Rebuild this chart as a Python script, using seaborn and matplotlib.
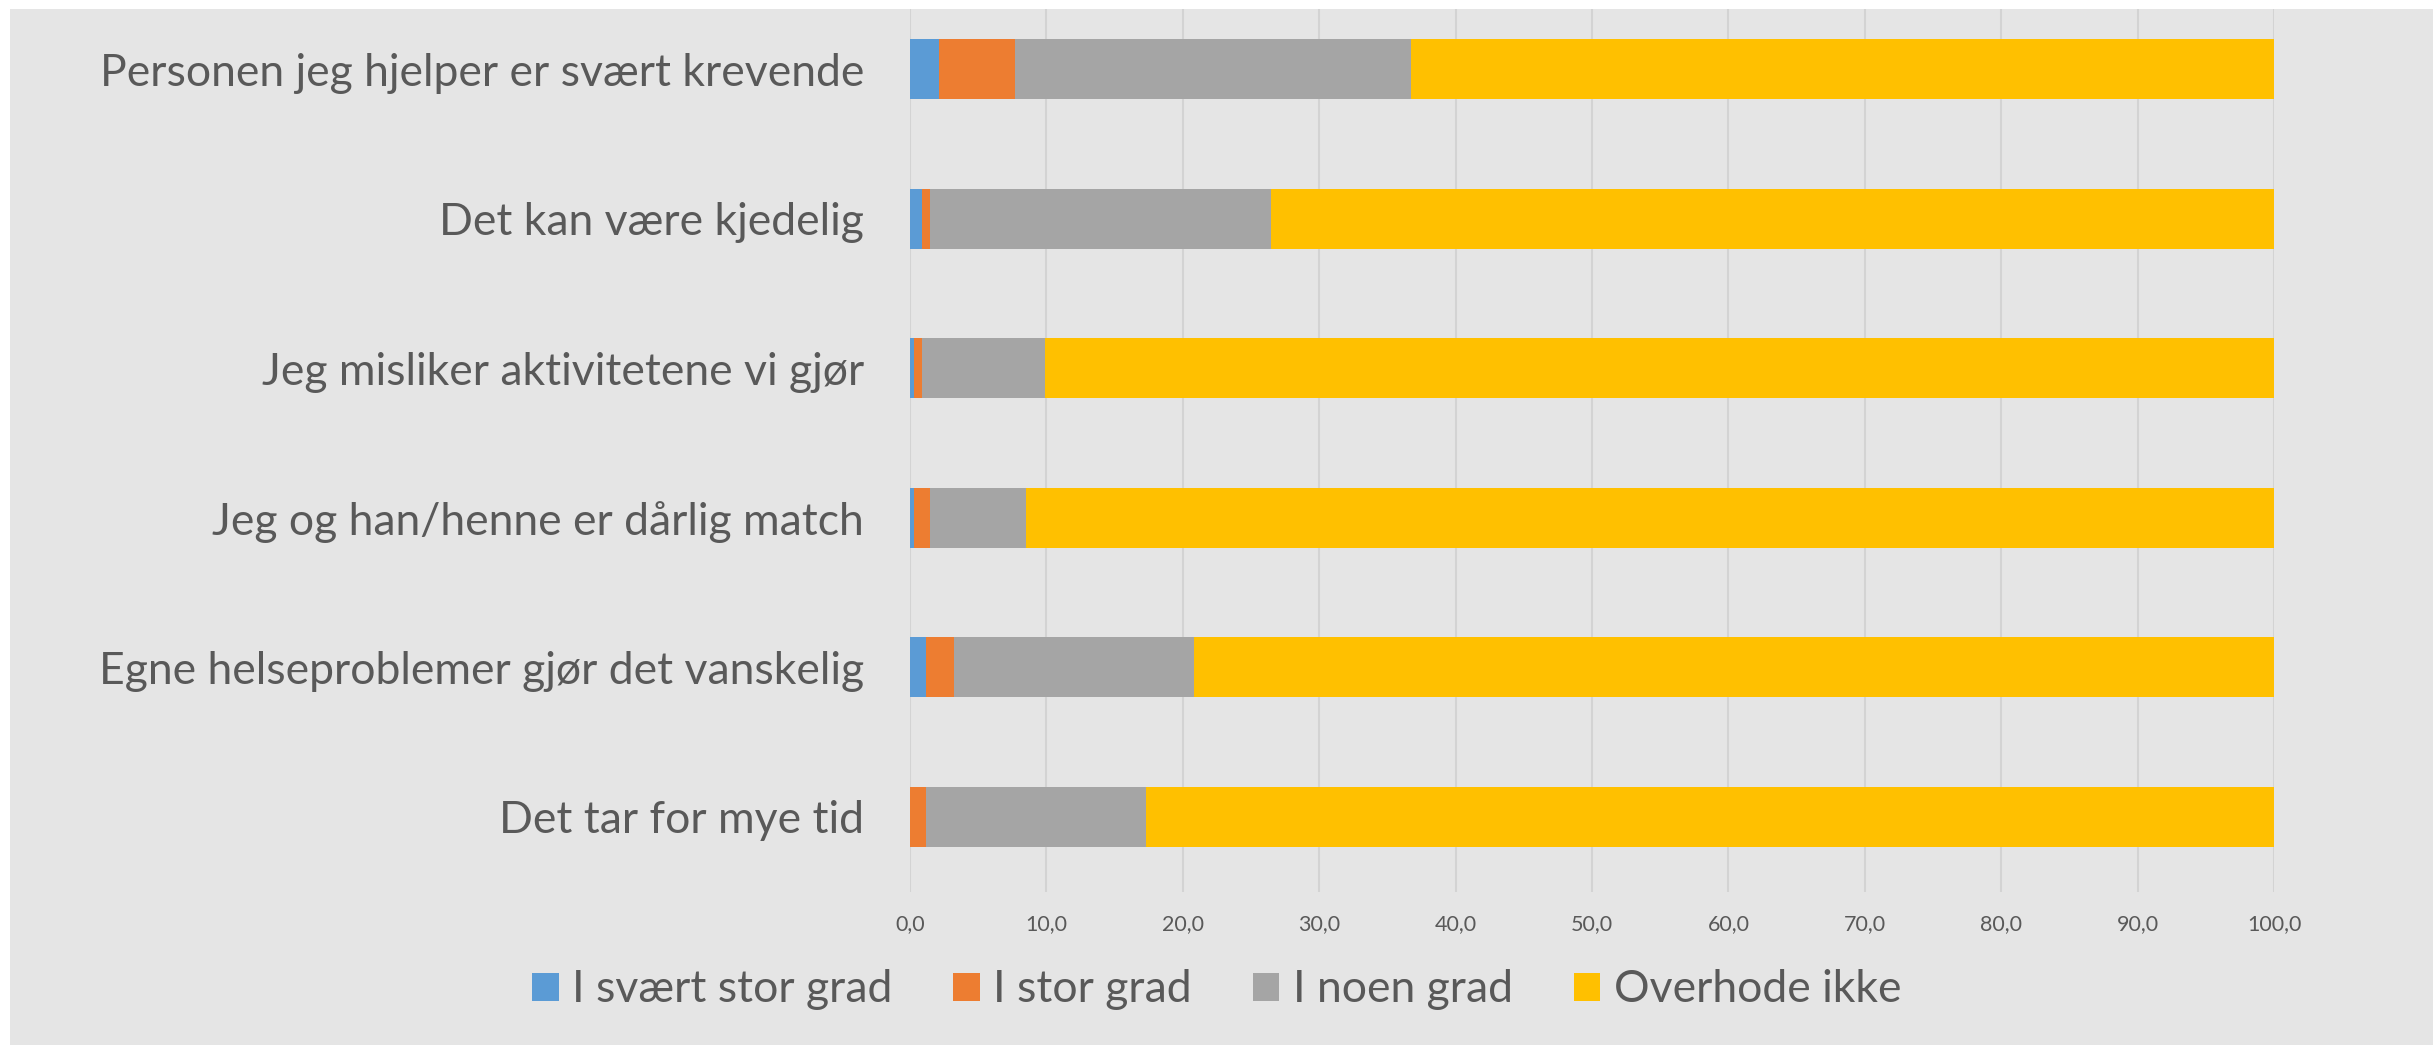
import pandas as pd
import matplotlib
matplotlib.use("Agg")
import matplotlib.pyplot as plt
from matplotlib.patches import Patch, Rectangle
import seaborn as sns

# --- data (percent of respondents) ---
categories = [
    "Personen jeg hjelper er svært krevende",
    "Det kan være kjedelig",
    "Jeg misliker aktivitetene vi gjør",
    "Jeg og han/henne er dårlig match",
    "Egne helseproblemer gjør det vanskelig",
    "Det tar for mye tid",
]
series_names = ["I svært stor grad", "I stor grad", "I noen grad", "Overhode ikke"]
svaert_stor = [2.1, 0.9, 0.3, 0.3, 1.2, 0.0]
stor = [5.6, 0.6, 0.6, 1.2, 2.0, 1.2]
noen = [29.0, 25.0, 9.0, 7.0, 17.6, 16.1]
overhode_ikke = [63.3, 73.5, 90.1, 91.5, 79.2, 82.7]
x_ticks = [0, 10, 20, 30, 40, 50, 60, 70, 80, 90, 100]

colors = ["#5B9BD5", "#ED7D31", "#A5A5A5", "#FFC000"]
bg = "#E5E5E5"
text_col = "#595959"

df = pd.DataFrame({
    "kategori": categories,
    series_names[0]: svaert_stor,
    series_names[1]: stor,
    series_names[2]: noen,
    series_names[3]: overhode_ikke,
})
# cumulative sums for stacking
cum = df[series_names].cumsum(axis=1)

sns.set_style("white")
plt.rcParams["font.family"] = ["Lato", "DejaVu Sans"]

W, H = 2433, 1045
fig = plt.figure(figsize=(W / 100, H / 100), dpi=100, facecolor=bg)
x0, x1 = 910 / W, 2274 / W
y_top, y_bot = -5.6, 891.5
ax = fig.add_axes([x0, 1 - y_bot / H, x1 - x0, (y_bot - y_top) / H])
ax.set_facecolor(bg)

# draw the longest (cumulative) bar first, shorter on top
for name, col in reversed(list(zip(series_names, colors))):
    sns.barplot(x=cum[name], y=df["kategori"], color=col, width=0.4,
                orient="h", ax=ax, zorder=3, linewidth=0, saturation=1)

ax.set_xlim(0, 100)
ax.set_ylim(5.5, -0.5)
ax.set_xticks(x_ticks)
ax.set_xticklabels([f"{v:.1f}".replace(".", ",") for v in x_ticks])
ax.grid(axis="x", color="#D3D3D3", linewidth=1.5, zorder=0)
ax.set_axisbelow(True)
for s in ax.spines.values():
    s.set_visible(False)
ax.tick_params(axis="x", length=0, pad=16, labelsize=15.5, labelcolor=text_col)
ax.tick_params(axis="y", length=0, pad=33, labelsize=32, labelcolor=text_col)
ax.set_xlabel("")
ax.set_ylabel("")

handles = [Patch(facecolor=c, edgecolor="none") for c in colors]
fig.legend(handles, series_names, loc="center", bbox_to_anchor=(0.5, 1 - 990 / H),
           ncol=4, frameon=False, fontsize=32, labelcolor=text_col,
           handlelength=0.6, handleheight=0.6, handletextpad=0.3,
           columnspacing=1.37)

# white margin strips along the top and left edge
fig.patches.append(Rectangle((0, 1 - 9 / H), 1, 9 / H, transform=fig.transFigure,
                             facecolor="white", edgecolor="none", zorder=10))
fig.patches.append(Rectangle((0, 0), 10 / W, 1, transform=fig.transFigure,
                             facecolor="white", edgecolor="none", zorder=10))

fig.savefig("out.png", dpi=100, facecolor=bg)
